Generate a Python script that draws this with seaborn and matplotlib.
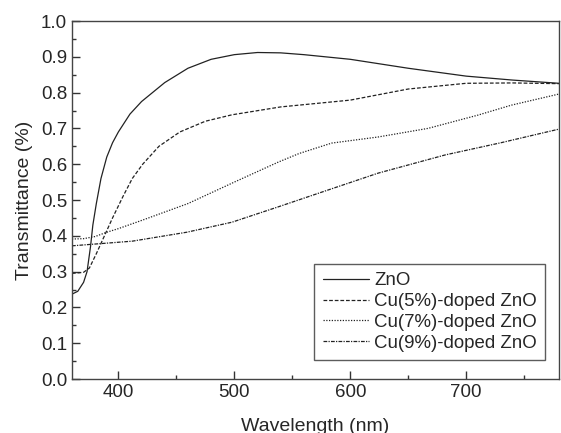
import numpy as np
import pandas as pd
import matplotlib
matplotlib.use("Agg")
import matplotlib.pyplot as plt
import seaborn as sns
from matplotlib.ticker import MultipleLocator

# valores
wl_zno = [360, 365, 370, 373, 376, 378, 381, 385, 390, 395, 400, 410, 420, 440, 460,
          480, 500, 520, 540, 560, 600, 650, 700, 740, 780]
t_zno = [0.237, 0.245, 0.27, 0.30, 0.37, 0.43, 0.49, 0.56, 0.62, 0.66, 0.69, 0.74, 0.775,
         0.828, 0.868, 0.893, 0.906, 0.912, 0.911, 0.906, 0.893, 0.868, 0.846, 0.835, 0.826]

wl_cu5 = [360, 370, 375, 381, 388, 395, 404, 412, 421, 435, 453, 475, 498, 540, 600,
          650, 700, 740, 780]
t_cu5 = [0.295, 0.298, 0.31, 0.35, 0.40, 0.45, 0.51, 0.56, 0.60, 0.65, 0.69, 0.72, 0.738,
         0.76, 0.779, 0.81, 0.826, 0.827, 0.825]

wl_cu7 = [360, 370, 380, 390, 400, 421, 460, 500, 538, 556, 584, 624, 667, 710, 739, 780]
t_cu7 = [0.391, 0.392, 0.398, 0.41, 0.42, 0.444, 0.49, 0.55, 0.606, 0.63, 0.659, 0.676,
         0.70, 0.737, 0.765, 0.796]

wl_cu9 = [360, 380, 400, 412, 459, 498, 538, 580, 624, 682, 730, 780]
t_cu9 = [0.372, 0.377, 0.382, 0.385, 0.41, 0.438, 0.481, 0.527, 0.575, 0.626, 0.66, 0.698]

labels = ["ZnO", "Cu(5%)-doped ZnO", "Cu(7%)-doped ZnO", "Cu(9%)-doped ZnO"]

sns.set_style("ticks")
plt.rcParams["font.family"] = ["Liberation Sans", "DejaVu Sans"]

fig = plt.figure(figsize=(5.61, 4.33), dpi=100)
ax = fig.add_axes([0.1283, 0.1247, 0.8681, 0.8268])

series = [(wl_zno, t_zno, "-"), (wl_cu5, t_cu5, (0, (3, 1.5))),
          (wl_cu7, t_cu7, (0, (1, 1.2))), (wl_cu9, t_cu9, (0, (3, 1, 1, 1)))]
for (x, y, ls), lab in zip(series, labels):
    sns.lineplot(x=x, y=y, ax=ax, color="#222222", linewidth=0.9,
                 linestyle=ls, label=lab)

ax.set_xlim(360, 780)
ax.set_ylim(0.0, 1.0)
ax.xaxis.set_major_locator(MultipleLocator(100))
ax.xaxis.set_minor_locator(MultipleLocator(50))
ax.yaxis.set_major_locator(MultipleLocator(0.1))
ax.yaxis.set_minor_locator(MultipleLocator(0.05))
ax.yaxis.set_major_formatter(matplotlib.ticker.FormatStrFormatter("%.1f"))
ax.tick_params(which="both", direction="in", top=False, right=False, labelsize=13.5,
               width=1.0, color="#333333")
ax.tick_params(which="major", length=6)
ax.tick_params(which="minor", length=3)
for s in ax.spines.values():
    s.set_color("#444444")
    s.set_linewidth(1.0)

ax.set_xlabel("Wavelength (nm)", fontsize=14, labelpad=12)
ax.set_ylabel("Transmittance (%)", fontsize=14, labelpad=6)

leg = ax.legend(loc="lower right", bbox_to_anchor=(0.972, 0.053), fontsize=13.4,
                frameon=True, fancybox=False, edgecolor="#333333", handlelength=2.5,
                handletextpad=0.27, labelspacing=0.2, borderpad=0.45, borderaxespad=0)
leg.get_frame().set_linewidth(1.0)

fig.savefig("out.png", dpi=100)
